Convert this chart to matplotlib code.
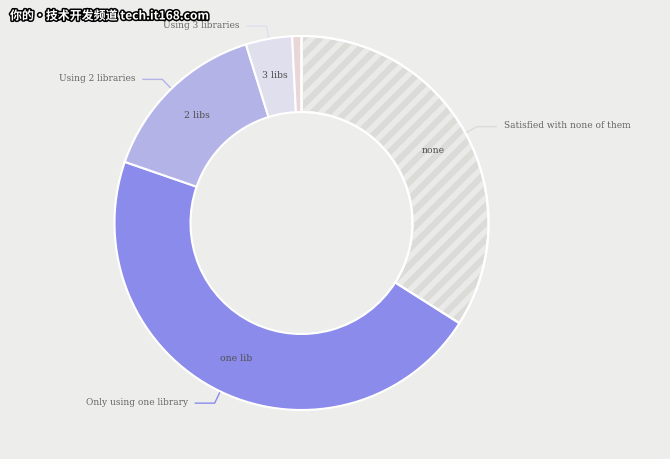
import numpy as np
import matplotlib
matplotlib.use("Agg")
import matplotlib.pyplot as plt
import matplotlib.patheffects as pe
from matplotlib.patches import Wedge

# ---- data ----
inner_labels = ["none", "one lib", "2 libs", "3 libs", ""]
outer_labels = ["Satisfied with none of them", "Only using one library",
                "Using 2 libraries", "Using 3 libraries", ""]
values = [34.0, 46.3, 14.9, 4.0, 0.8]
colors = ["#DBDCD8", "#8B8BEB", "#B3B3E8", "#DFDFEE", "#E8D6D8"]
leader_colors = ["#DBDCD8", "#8B8BEB", "#B3B3E8", "#DFDFEE", "#E8D6D8"]
bg = "#EDEEEB"

W, H = 670, 459
fig = plt.figure(figsize=(W / 100, H / 100), dpi=100, facecolor=bg)
ax = fig.add_axes([0, 0, 1, 1])
ax.set_facecolor(bg)
ax.axis("off")

cx, cy = 301.5, H - 223
R, r_in = 187, 111
width = R - r_in

plt.rcParams["hatch.linewidth"] = 4.0

wedges, _ = ax.pie(values, radius=R, center=(cx, cy), startangle=90,
                   counterclock=False, colors=colors,
                   wedgeprops=dict(width=width, edgecolor="white", linewidth=1.5))
ax.set_xlim(0, W)
ax.set_ylim(0, H)
ax.set_aspect("equal")

# hatched overlay for the "none" slice
w0 = wedges[0]
hw = Wedge((cx, cy), R, w0.theta1, w0.theta2, width=width,
           facecolor="none", edgecolor="#EAEBE8", hatch="//", linewidth=0)
ax.add_patch(hw)
ow = Wedge((cx, cy), R, w0.theta1, w0.theta2, width=width,
           facecolor="none", edgecolor="white", linewidth=1.5)
ax.add_patch(ow)

label_font = ["DejaVu Serif"]
total = sum(values)
start = 90.0
for i, v in enumerate(values):
    span = v / total * 360.0
    mid = np.deg2rad(start - span / 2)
    start -= span
    if inner_labels[i]:
        rr = (R + r_in) / 2 + 1
        ax.text(cx + rr * np.cos(mid), cy + rr * np.sin(mid), inner_labels[i],
                ha="center", va="center", fontsize=6.7, color="#505050",
                family=label_font)
    if outer_labels[i]:
        p0 = (cx + (R + 1) * np.cos(mid), cy + (R + 1) * np.sin(mid))
        p1 = (cx + 200 * np.cos(mid), cy + 200 * np.sin(mid))
        side = 1 if np.cos(mid) >= 0 else -1
        p2 = (p1[0] + side * 20, p1[1])
        ax.plot([p0[0], p1[0], p2[0]], [p0[1], p1[1], p2[1]],
                color=leader_colors[i], lw=1.0, solid_capstyle="butt")
        ax.text(p2[0] + side * 7, p2[1] + 1, outer_labels[i],
                ha="left" if side > 0 else "right", va="center",
                fontsize=6.5, color="#666666", family=label_font)

# watermark
fig.text(10 / W, 1 - 16 / H, "你的•技术开发频道 tech.it168.com",
         ha="left", va="center", fontsize=8.6, fontweight="bold", color="white",
         family=["Noto Sans CJK SC", "DejaVu Sans"],
         path_effects=[pe.withStroke(linewidth=2.2, foreground="black")])

fig.savefig("out.png", dpi=100, facecolor=bg)
